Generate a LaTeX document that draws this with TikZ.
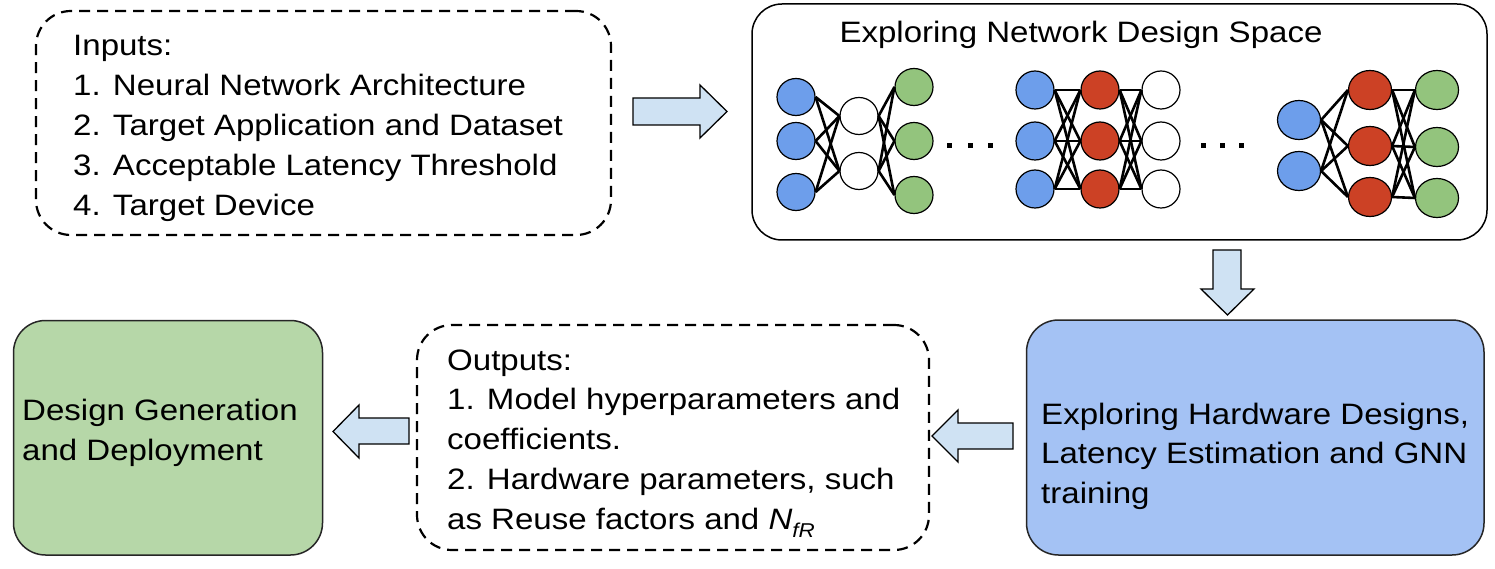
\documentclass[tikz,border=0pt]{standalone}
\usepackage{fontspec}
\setmainfont{Liberation Sans}[FakeStretch=1.12]
\usetikzlibrary{shapes.geometric}
\definecolor{nblue}{HTML}{6D9EEB}
\definecolor{nred}{HTML}{CC4125}
\definecolor{ngreen}{HTML}{93C47D}
\definecolor{boxblue}{HTML}{A4C2F4}
\definecolor{boxgreen}{HTML}{B6D7A8}
\definecolor{arrowfill}{HTML}{CFE2F3}
\begin{document}
\begin{tikzpicture}[x=1pt,y=-1pt,
  txt/.style={font=\fontsize{29.5}{39.8}\selectfont, align=left, inner sep=0pt},
  dashbox/.style={draw=black, line width=2.2pt, dash pattern=on 11pt off 7pt, rounded corners=35pt, rectangle, inner sep=0pt},
  solidbox/.style={draw=black!85, line width=1.5pt, rounded corners=32pt, rectangle, inner sep=0pt},
  blockarrow/.style={draw=black, line width=1.3pt, fill=arrowfill, line join=miter},
  neuron/.style={ellipse, draw=black, line width=1.2pt, inner sep=0pt, minimum width=38pt, minimum height=37pt},
  bigneuron/.style={neuron, minimum width=43pt, minimum height=39pt},
  edge/.style={draw=black, line width=2.6pt},
  dotmark/.style={fill=black, rectangle, inner sep=0pt, minimum size=5pt}
]
\useasboundingbox (0,0) rectangle (1495,569);

% boxes
\node[dashbox, minimum width=575pt, minimum height=224pt] (inbox) at (323.5,123) {};
\node[solidbox, draw=black, rounded corners=30pt, minimum width=735pt, minimum height=236pt] (netbox) at (1119.5,122) {};
\node[solidbox, fill=boxgreen, minimum width=309pt, minimum height=234.5pt] (genbox) at (168,437.75) {};
\node[dashbox, minimum width=512pt, minimum height=225pt] (outbox) at (673,437.5) {};
\node[solidbox, fill=boxblue, minimum width=457.5pt, minimum height=235pt] (hwbox) at (1255.25,437.5) {};

% texts (base anchor = baseline of the last line)
\node[txt, anchor=base west] (intext) at (73,215.2) {Inputs:\\1. Neural Network Architecture\\2. Target Application and Dataset\\3. Acceptable Latency Threshold\\4. Target Device};
\node[txt, anchor=base] (title) at (1081,43) {Exploring Network Design Space};
\node[txt, anchor=base west] (gentext) at (22,460) {Design Generation\\and Deployment};
\node[txt, anchor=base west] (outtext) at (447,529.2) {Outputs:\\1. Model hyperparameters and\\coefficients.\\2. Hardware parameters, such\\as Reuse factors and \textit{N}\raisebox{-8pt}{\fontsize{20}{20}\selectfont\textit{fR}}};
\node[txt, anchor=base west] (hwtext) at (1041,503.6) {Exploring Hardware Designs,\\Latency Estimation and GNN\\training};

% block arrows
\draw[blockarrow] (633,98) -- (700,98) -- (700,85) -- (727,111.5) -- (700,138) -- (700,125) -- (633,125) -- cycle;
\draw[blockarrow] (1213,250) -- (1241,250) -- (1241,289) -- (1254,289) -- (1227.5,315) -- (1201,289) -- (1213,289) -- cycle;
\draw[blockarrow] (409,418) -- (359,418) -- (359,405) -- (333,431.5) -- (359,458) -- (359,444) -- (409,444) -- cycle;
\draw[blockarrow] (1013,423) -- (958,423) -- (958,410) -- (932,436) -- (958,462) -- (958,449) -- (1013,449) -- cycle;

% network 1
\foreach \i/\y in {1/97,2/141,3/192} \node[neuron, fill=nblue] (pa\i) at (796,\y) {};
\foreach \i/\y in {1/116,2/171} \node[neuron, fill=white] (pb\i) at (859,\y) {};
\foreach \i/\y in {1/87,2/141,3/195} \node[neuron, fill=ngreen] (pc\i) at (914,\y) {};
\foreach \i in {1,2,3} \foreach \j in {1,2} \draw[edge] (pa\i.east) -- (pb\j.west);
\foreach \i in {1,2} \foreach \j in {1,2,3} \draw[edge] (pb\i.east) -- (pc\j.west);

% network 2
\foreach \i/\y in {1/90,2/141,3/189} {
  \node[neuron, fill=nblue, minimum height=38pt] (qa\i) at (1035,\y) {};
  \node[neuron, fill=nred, minimum height=38pt] (qb\i) at (1100,\y) {};
  \node[neuron, fill=white, minimum height=38pt] (qc\i) at (1161,\y) {};
}
\foreach \i in {1,2,3} \foreach \j in {1,2,3} {
  \draw[edge] (qa\i.east) -- (qb\j.west);
  \draw[edge] (qb\i.east) -- (qc\j.west);
}

% network 3
\foreach \i/\y in {1/120,2/171} \node[bigneuron, fill=nblue] (ra\i) at (1299,\y) {};
\foreach \i/\y in {1/90,2/146,3/197} \node[bigneuron, fill=nred] (rb\i) at (1370,\y) {};
\foreach \i/\y in {1/90,2/147,3/198} \node[bigneuron, fill=ngreen] (rc\i) at (1437,\y) {};
\foreach \i in {1,2} \foreach \j in {1,2,3} \draw[edge] (ra\i.east) -- (rb\j.west);
\foreach \i in {1,2,3} \foreach \j in {1,2,3} \draw[edge] (rb\i.east) -- (rc\j.west);

% ellipsis dots
\foreach \k/\x in {1/949.5,2/970,3/990.5} \node[dotmark] (da\k) at (\x,146) {};
\foreach \k/\x in {1/1203.5,2/1222.5,3/1241.5} \node[dotmark] (db\k) at (\x,146) {};
\end{tikzpicture}
\end{document}
